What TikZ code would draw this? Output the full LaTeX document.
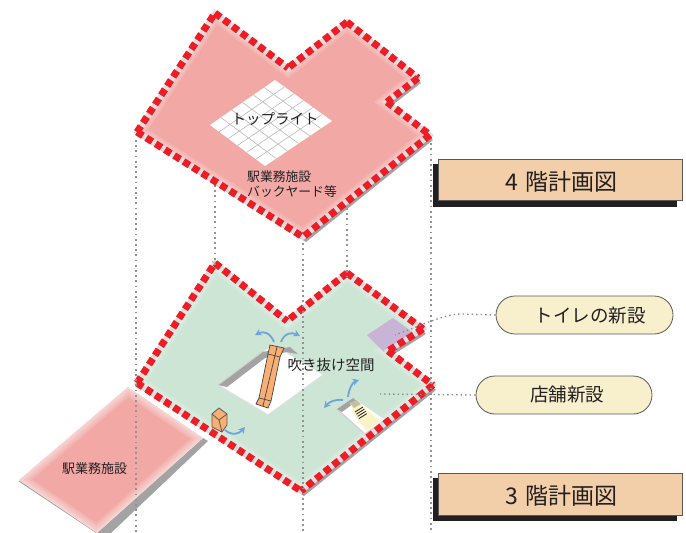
\documentclass[tikz,border=0pt]{standalone}
\usepackage{fontspec}
\setmainfont{Noto Sans CJK JP}
\usetikzlibrary{arrows.meta,calc}
\definecolor{plpink}{HTML}{F2A9A6}
\definecolor{plgreen}{HTML}{CCE5D5}
\definecolor{dashred}{HTML}{EE1C25}
\definecolor{wallgray}{HTML}{A3A3A3}
\definecolor{inkdark}{HTML}{231F20}
\definecolor{tanbox}{HTML}{F2CFA8}
\definecolor{creampill}{HTML}{F8F0CD}
\definecolor{orangepart}{HTML}{F9AE74}
\definecolor{bluearrow}{HTML}{6FA5DC}
\definecolor{purplearea}{HTML}{C9B3D6}
\definecolor{stairbeige}{HTML}{FAF3C8}
\tikzset{
  x=1pt,y=-1pt,
  dotline/.style={draw=gray!85,line width=1.8pt,dash pattern=on 1.8pt off 3.4pt},
  leaderline/.style={draw=gray!90,line width=1.3pt,dash pattern=on 1.5pt off 3pt},
  reddash/.style={draw=dashred,line width=7pt,dash pattern=on 7pt off 4pt},
  underline/.style={draw=gray!25,line width=5pt},
  titlebox/.style={draw=gray!70!black,line width=.7pt,fill=tanbox,minimum width=244pt,minimum height=41.5pt,inner sep=0pt},
  titleshadow/.style={fill=inkdark,minimum width=244pt,minimum height=42.5pt,inner sep=0pt},
  pillbox/.style={draw=inkdark!75,line width=.8pt,fill=creampill,rounded corners=19pt,minimum height=38pt,inner sep=0pt},
  flowarrow/.style={draw=bluearrow,line width=1.8pt,-{Stealth[length=6.5pt,width=7pt]}},
  partline/.style={draw=inkdark!85,line width=.7pt},
  lbl/.style={inner sep=0pt,text=inkdark},
}
\newcommand{\softfill}[2]{%
  \begin{scope}
    \clip #2;
    \fill[#1] #2;
    \foreach \w in {16,12,8,5,2}{\draw[white,opacity=.14,line width=\w pt] #2;}
  \end{scope}}
\newcommand{\redoutline}[1]{%
  \foreach \xa/\ya/\xb/\yb in {#1}{\draw[reddash] (\xa,\ya)--(\xb,\yb);}}
\def\upperplate{(215,13)--(288,68)--(347,22)--(418,78)--(387,102)--(430,135)--(303,237)--(137,132)--cycle}
\def\lowerplate{(215,263)--(287,321)--(347,273)--(423,329)--(388,351)--(433,385)--(301,491)--(137,383)--cycle}
\def\leftplate{(128,387)--(19,480)--(97,533)--(203,438)--cycle}
\def\topskylight{(210,125)--(275,80)--(332,121)--(265,166)--cycle}
\begin{document}
\begin{tikzpicture}
\useasboundingbox (0,0) rectangle (686,533);
% left building plate
\fill[wallgray] (203,438)--(208,441)--(111,533)--(97,533)--cycle;
\draw[wallgray,line width=1pt] (19,481)--(97,533);
\softfill{plpink}{\leftplate}
% lower plate
\fill[wallgray,shift={(3,5)}] \lowerplate;
\softfill{plgreen}{\lowerplate}
\draw[gray!30,line width=1.5pt,line join=miter] \lowerplate;
% purple toilet area
\begin{scope}
  \clip \lowerplate;
  \fill[purplearea] (367,335)--(393,318)--(415,334)--(384,352)--cycle;
\end{scope}
% atrium
\fill[white] (218,385)--(273,345)--(323,375)--(268,415)--cycle;
\draw[gray!25,line width=1.2pt] (218,385)--(268,415)--(323,375);
\fill[wallgray] (218,385)--(262,352)--(290,347)--(298,354)--(286,352)--(265,358)--(227,387)--cycle;
\draw[gray!35,line width=1pt] (218,385)--(262,352);
% stair well
\fill[white] (337,409)--(353,398)--(385,420)--(365,434)--cycle;
\draw[gray!35,line width=1.2pt] (337,409)--(365,434)--(385,420);
\fill[wallgray] (337,409)--(353,398)--(357,401)--(342,412)--cycle;
\fill[stairbeige] (350,403)--(357,401)--(380,421)--(367,431)--(355,416)--cycle;
\fill[gray!45!stairbeige] (350,403)--(356,400)--(361,404)--(354,408)--cycle;
\foreach \k in {0,1,2,3}{\draw[inkdark,line width=.8pt] (355+\k*1.3,412+\k*2.2)--(363+\k*1.3,407+\k*2.2);}
% lower red outline
\draw[underline] \lowerplate;
\redoutline{215/263/287/321,347/273/287/321,347/273/423/329,423/329/388/351,388/351/433/385,433/385/301/491,137/383/301/491,137/383/215/263}
% vertical dotted lines
\draw[dotline] (136,140)--(136,533);
\draw[dotline] (215,185)--(215,265);
\draw[dotline] (303,238)--(303,533);
\draw[dotline] (347,208)--(347,278);
\draw[dotline] (431,138)--(431,531);
% upper plate
\fill[wallgray,shift={(3,5)}] \upperplate;
\softfill{plpink}{\upperplate}
\draw[underline] \upperplate;
\redoutline{215/13/288/68,347/22/288/68,347/22/418/78,418/78/387/102,387/102/430/135,430/135/303/237,137/132/303/237,137/132/215/13}
% skylight
\fill[white] \topskylight;
\begin{scope}
  \clip \topskylight;
  \foreach \t in {0.167,0.333,0.5,0.667,0.833}{
    \draw[gray!55,line width=.6pt] ($(210,125)!\t!(275,80)$)--($(265,166)!\t!(332,121)$);
    \draw[gray!55,line width=.6pt] ($(210,125)!\t!(265,166)$)--($(275,80)!\t!(332,121)$);
  }
\end{scope}
% escalator
\draw[partline,fill=orangepart] (270,345)--(284,348)--(280,357)--(271,401)--(268,408)--(256,404)--(259,398)--(268,354)--cycle;
\draw[partline] (268,354)--(280,357) (259,398)--(271,401) (277,347)--(263,406);
% elevator box
\draw[draw=gray!70!black,line width=.8pt,fill=orangepart] (219,408)--(227,414)--(227,425)--(222,432)--(212,427)--(212,414)--cycle;
\draw[draw=gray!70!black,line width=.8pt] (212,414)--(219,420)--(227,414) (219,420)--(222,432);
% flow arrows
\draw[flowarrow] (274,342) .. controls (270,332) and (263,331) .. (255,335);
\draw[flowarrow] (281,342) .. controls (284,333) and (292,332) .. (300,336);
\draw[flowarrow] (225,430) .. controls (232,436) and (239,434) .. (245,427);
\draw[flowarrow] (348,397) .. controls (349,388) and (353,382) .. (359,380);
\draw[flowarrow] (343,400) .. controls (335,399) and (329,402) .. (324,408);
% title boxes
\node[titleshadow] (shadowfour) at (555,185.5) {};
\node[titlebox] (titlefour) at (560,180) {};
\node[lbl,font=\fontsize{23}{25}\selectfont] (titlefourtext) at (561.5,182) {4\hspace{2.5pt} 階計画図};
\node[titleshadow] (shadowthree) at (555,499.5) {};
\node[titlebox] (titlethree) at (560,494.3) {};
\node[lbl,font=\fontsize{23}{25}\selectfont] (titlethreetext) at (561.5,496) {3\hspace{2.5pt} 階計画図};
% pills
\node[pillbox,minimum width=177pt] (pilltoilet) at (584.5,315) {};
\node[lbl,font=\fontsize{18.5}{20}\selectfont] (pilltoilettext) at (590,316) {トイレの新設};
\node[pillbox,minimum width=176pt] (pillstore) at (564,395) {};
\node[lbl,font=\fontsize{18.5}{20}\selectfont] (pillstoretext) at (567,394) {店舗新設};
% leaders
\coordinate (toiletend) at (395,335);
\coordinate (storeend) at (380,394);
\draw[leaderline] (pilltoilet.west) -- (462,314) .. controls (445,314) and (430,322) .. (toiletend);
\draw[leaderline] (pillstore.west) -- (storeend);
% plate texts
\node[lbl,font=\fontsize{14.5}{16}\selectfont] (skylighttext) at (275,119) {トップライト};
\node[lbl,font=\fontsize{12.8}{15}\selectfont,anchor=west] (upperone) at (247,177) {駅業務施設};
\node[lbl,font=\fontsize{12.8}{15}\selectfont,anchor=west] (uppertwo) at (247,192) {バックヤード等};
\node[lbl,font=\fontsize{14.5}{16}\selectfont] (atriumtext) at (331,365) {吹き抜け空間};
\node[lbl,font=\fontsize{13}{15}\selectfont] (lefttext) at (94.5,469) {駅業務施設};
\end{tikzpicture}
\end{document}
